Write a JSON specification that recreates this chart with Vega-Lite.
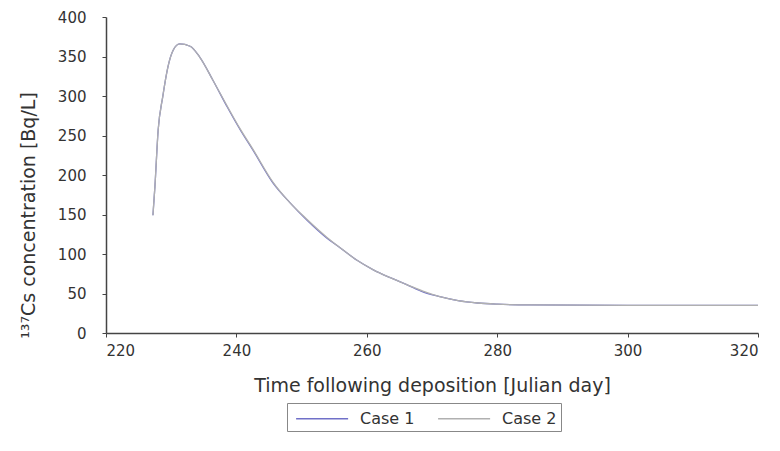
{
  "$schema": "https://vega.github.io/schema/vega-lite/v6.json",
  "width": 652,
  "height": 316,
  "autosize": {"type": "none"},
  "padding": {"left": 106, "top": 17, "right": 22, "bottom": 118},
  "background": "white",
  "config": {
    "font": "DejaVu Sans",
    "view": {"stroke": null},
    "axis": {"grid": false, "domainColor": "#444", "domainWidth": 1.5, "tickColor": "#444", "labelColor": "#333", "titleColor": "#333", "labelFont": "DejaVu Sans", "titleFont": "DejaVu Sans", "titleFontWeight": "normal", "labelFontSize": 15, "titleFontSize": 19}
  },
  "data": {
    "values": [
      {"day": 227.2, "c": 149, "series": "Case 1"},
      {"day": 227.5, "c": 185, "series": "Case 1"},
      {"day": 228.0, "c": 257, "series": "Case 1"},
      {"day": 228.7, "c": 299, "series": "Case 1"},
      {"day": 229.5, "c": 337, "series": "Case 1"},
      {"day": 230.3, "c": 358, "series": "Case 1"},
      {"day": 231.3, "c": 366, "series": "Case 1"},
      {"day": 232.9, "c": 363, "series": "Case 1"},
      {"day": 234.4, "c": 349, "series": "Case 1"},
      {"day": 236.4, "c": 320, "series": "Case 1"},
      {"day": 238.6, "c": 286, "series": "Case 1"},
      {"day": 240.6, "c": 257, "series": "Case 1"},
      {"day": 242.5, "c": 232, "series": "Case 1"},
      {"day": 245.6, "c": 190, "series": "Case 1"},
      {"day": 248.2, "c": 165, "series": "Case 1"},
      {"day": 250.8, "c": 143, "series": "Case 1"},
      {"day": 253.9, "c": 120, "series": "Case 1"},
      {"day": 255.9, "c": 108, "series": "Case 1"},
      {"day": 258.5, "c": 92, "series": "Case 1"},
      {"day": 261.0, "c": 80, "series": "Case 1"},
      {"day": 263.6, "c": 70, "series": "Case 1"},
      {"day": 266.2, "c": 61, "series": "Case 1"},
      {"day": 268.6, "c": 52, "series": "Case 1"},
      {"day": 271.2, "c": 46, "series": "Case 1"},
      {"day": 274.0, "c": 41, "series": "Case 1"},
      {"day": 277.0, "c": 38, "series": "Case 1"},
      {"day": 280.0, "c": 36.5, "series": "Case 1"},
      {"day": 285.0, "c": 35.5, "series": "Case 1"},
      {"day": 300.0, "c": 35, "series": "Case 1"},
      {"day": 320.0, "c": 35, "series": "Case 1"},
      {"day": 227.2, "c": 149, "series": "Case 2"},
      {"day": 227.5, "c": 185, "series": "Case 2"},
      {"day": 228.0, "c": 257, "series": "Case 2"},
      {"day": 228.7, "c": 299, "series": "Case 2"},
      {"day": 229.5, "c": 337, "series": "Case 2"},
      {"day": 230.3, "c": 358, "series": "Case 2"},
      {"day": 231.3, "c": 366, "series": "Case 2"},
      {"day": 232.9, "c": 363, "series": "Case 2"},
      {"day": 234.4, "c": 349, "series": "Case 2"},
      {"day": 236.4, "c": 320, "series": "Case 2"},
      {"day": 238.6, "c": 287, "series": "Case 2"},
      {"day": 240.6, "c": 258, "series": "Case 2"},
      {"day": 242.5, "c": 233, "series": "Case 2"},
      {"day": 245.6, "c": 191, "series": "Case 2"},
      {"day": 248.2, "c": 165, "series": "Case 2"},
      {"day": 250.8, "c": 144, "series": "Case 2"},
      {"day": 253.9, "c": 121, "series": "Case 2"},
      {"day": 255.9, "c": 108, "series": "Case 2"},
      {"day": 258.5, "c": 92, "series": "Case 2"},
      {"day": 261.0, "c": 80, "series": "Case 2"},
      {"day": 263.6, "c": 70, "series": "Case 2"},
      {"day": 266.2, "c": 61, "series": "Case 2"},
      {"day": 268.6, "c": 53, "series": "Case 2"},
      {"day": 271.2, "c": 46, "series": "Case 2"},
      {"day": 274.0, "c": 41, "series": "Case 2"},
      {"day": 277.0, "c": 38, "series": "Case 2"},
      {"day": 280.0, "c": 36.5, "series": "Case 2"},
      {"day": 285.0, "c": 35.5, "series": "Case 2"},
      {"day": 300.0, "c": 35, "series": "Case 2"},
      {"day": 320.0, "c": 35, "series": "Case 2"}
    ]
  },
  "mark": {"type": "line", "strokeWidth": 1.3, "interpolate": "monotone"},
  "encoding": {
    "x": {
      "field": "day", "type": "quantitative",
      "scale": {"domain": [220, 320], "nice": false, "zero": false},
      "axis": {"values": [220, 240, 260, 280, 300, 320], "title": "Time following deposition [Julian day]", "tickSize": 4, "labelPadding": 6, "titlePadding": 18}
    },
    "y": {
      "field": "c", "type": "quantitative",
      "scale": {"domain": [0, 400], "nice": false},
      "axis": {"values": [0, 50, 100, 150, 200, 250, 300, 350, 400], "title": "¹³⁷Cs concentration [Bq/L]", "tickSize": 4, "labelPadding": 16, "titlePadding": 19, "titleY": 198}
    },
    "color": {
      "field": "series", "type": "nominal",
      "scale": {"domain": ["Case 1", "Case 2"], "range": ["#7070c8", "#b0b0b0"]},
      "legend": {
        "title": null, "orient": "none", "direction": "horizontal",
        "legendX": 181, "legendY": 386,
        "symbolType": "M-0.615,0H4.385", "symbolSize": 433, "symbolStrokeWidth": 1.3,
        "labelFontSize": 16, "labelColor": "#333", "labelFont": "DejaVu Sans",
        "labelOffset": 46, "columnPadding": 18,
        "strokeColor": "#888", "padding": 4, "fillColor": "white"
      }
    },
    "order": {"field": "series"}
  }
}
